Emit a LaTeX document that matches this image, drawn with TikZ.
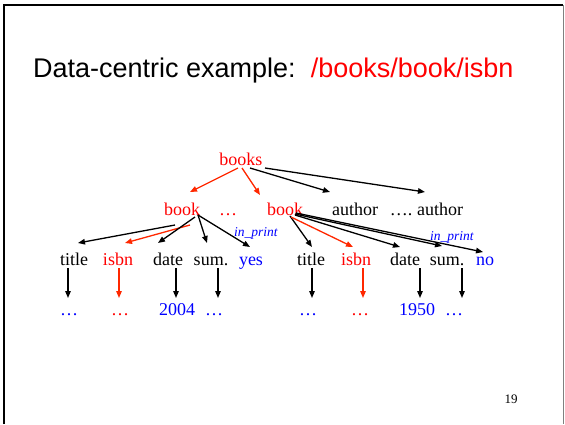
\documentclass[tikz,border=0pt]{standalone}
\usepackage{fontspec}
\setmainfont{Liberation Serif}
\newfontfamily\titlefont{Liberation Sans}
\usetikzlibrary{arrows.meta}
\definecolor{pathred}{RGB}{255,0,0}
\definecolor{arrowred}{RGB}{255,40,0}
\definecolor{valblue}{RGB}{0,0,255}
\tikzset{
  tree/.style={inner sep=0pt, anchor=base, font=\fontsize{18}{20}\selectfont},
  tag/.style={tree, text=black},
  hit/.style={tree, text=pathred},
  val/.style={tree, text=valblue},
  attr/.style={inner sep=0pt, anchor=base west, text=valblue,
    font=\fontsize{13.5}{15}\selectfont\itshape},
  arr/.style={line width=1.3pt, -{Triangle[length=7pt,width=5.5pt]}},
  redarr/.style={arr, draw=arrowred},
}
\begin{document}
\begin{tikzpicture}[x=1pt,y=-1pt]
\useasboundingbox (0,0) rectangle (565,424);
\fill[white] (0,0) rectangle (565,424);
% slide frame
\draw[line width=2pt] (4,424) -- (4,5) -- (563,5);
\draw[gray, line width=1pt] (563,5) -- (563,424);

% heading
\node[inner sep=0pt, anchor=base west, font=\titlefont\fontsize{27}{30}\selectfont]
  (head) at (33,77) {Data-centric example:\hspace{15pt}\textcolor{pathred}{/books/book/isbn}};

% root and first level
\node[hit] (books) at (241,165) {books};
\node[hit] (bk1) at (182,215) {book};
\node[hit] (dots1) at (228,215) {…};
\node[hit] (bk2) at (285,215) {book};
\node[tag] (au1) at (355,215) {author};
\node[tag] (dd) at (401,215) {….};
\node[tag] (au2) at (440,215) {author};

% second level, left book
\node[tag] (t1) at (74,265) {title};
\node[hit] (i1) at (118,265) {isbn};
\node[tag] (dt1) at (168,265) {date};
\node[tag] (s1) at (211,265) {sum.};
\node[val] (y1) at (251,265) {yes};
\node[attr] (ip1) at (234,236) {in\_print};

% second level, right book
\node[tag] (t2) at (311,265) {title};
\node[hit] (i2) at (356,265) {isbn};
\node[tag] (dt2) at (405,265) {date};
\node[tag] (s2) at (447,265) {sum.};
\node[val] (n2) at (485,265) {no};
\node[attr] (ip2) at (430,240) {in\_print};

% leaf values
\node[val] (e1) at (69,315) {…};
\node[hit] (e2) at (120,315) {…};
\node[val] (e3) at (177,315) {2004};
\node[val] (e4) at (214,315) {…};
\node[val] (e5) at (308,315) {…};
\node[hit] (e6) at (360,315) {…};
\node[val] (e7) at (417,315) {1950};
\node[val] (e8) at (454,315) {…};

% page number
\node[inner sep=0pt, anchor=base, font=\fontsize{13}{14}\selectfont] (pg) at (511,403) {19};

% edges from the root
\draw[redarr] ([shift={(-3,3)}]books.base) -- ([shift={(8,-23)}]bk1.base);
\draw[redarr] ([shift={(1,3)}]books.base) -- ([shift={(-25,-20)}]bk2.base);
\draw[arr] ([shift={(9,3)}]books.base) -- ([shift={(-25,-23)}]au1.base);
\draw[arr] ([shift={(24,3)}]books.base) -- ([shift={(-15,-23)}]au2.base);

% edges from the left book
\draw[arr] ([shift={(-7,10)}]bk1.base) -- ([shift={(4,-22)}]t1.base);
\draw[redarr] ([shift={(8,10)}]bk1.base) -- ([shift={(7,-22)}]i1.base);
\draw[arr] ([shift={(13,2)}]bk1.base) -- ([shift={(-10,-22)}]dt1.base);
\draw[arr] ([shift={(16,0)}]bk1.base) -- ([shift={(-4,-22)}]s1.base);
\draw[arr] ([shift={(16,0)}]bk1.base) -- ([shift={(-1,-18)}]y1.base);

% edges from the right book
\draw[arr] ([shift={(5,1)}]bk2.base) -- ([shift={(1,-18)}]t2.base);
\draw[redarr] ([shift={(6,2)}]bk2.base) -- ([shift={(-3,-18)}]i2.base);
\draw[arr] ([shift={(10,0)}]bk2.base) -- ([shift={(-5,-18)}]dt2.base);
\draw[arr] ([shift={(10,-1)}]bk2.base) -- ([shift={(-5,-19)}]s2.base);
\draw[arr] ([shift={(11,-2)}]bk2.base) -- ([shift={(-2,-13)}]n2.base);

% edges down to the values
\draw[arr] ([shift={(-6,3)}]t1.base) -- ([shift={(-1,-17)}]e1.base);
\draw[redarr] ([shift={(1,3)}]i1.base) -- ([shift={(-1,-17)}]e2.base);
\draw[arr] ([shift={(8,3)}]dt1.base) -- ([shift={(-1,-17)}]e3.base);
\draw[arr] ([shift={(7,3)}]s1.base) -- ([shift={(4,-17)}]e4.base);
\draw[arr] ([shift={(1,3)}]t2.base) -- ([shift={(4,-17)}]e5.base);
\draw[redarr] ([shift={(7,3)}]i2.base) -- ([shift={(3,-17)}]e6.base);
\draw[arr] ([shift={(15,3)}]dt2.base) -- ([shift={(3,-17)}]e7.base);
\draw[arr] ([shift={(15,3)}]s2.base) -- ([shift={(8,-17)}]e8.base);
\end{tikzpicture}
\end{document}
